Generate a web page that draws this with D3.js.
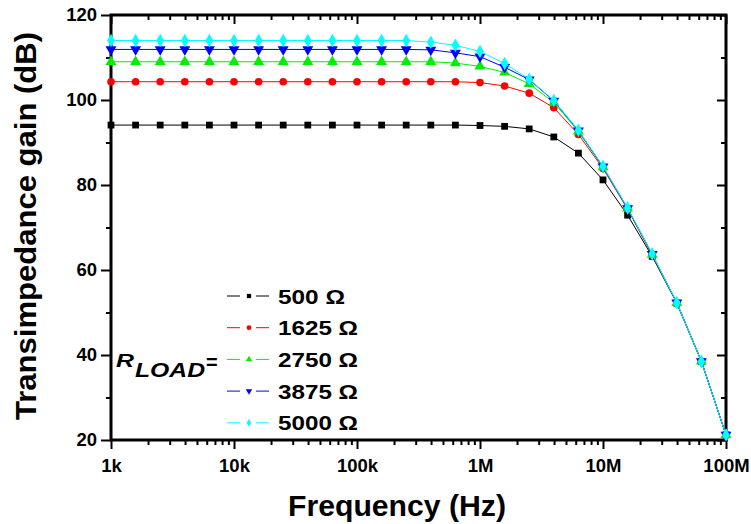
<!DOCTYPE html>
<html>
<head>
<meta charset="utf-8">
<script src="https://cdn.jsdelivr.net/npm/d3@7"></script>
<style>
  body { margin: 0; background: #fff; }
  svg text { font-family: "Liberation Sans", Arial, sans-serif; font-weight: bold; fill: #000; }
</style>
</head>
<body>
<svg id="chart" width="751" height="524"></svg>
<script>
// Frequency points (Hz), 5 per decade
const freq = [1000, 1585, 2512, 3981, 6310, 10000, 15850, 25120, 39810, 63100,
  1e5, 1.585e5, 2.512e5, 3.981e5, 6.31e5, 1e6, 1.585e6, 2.512e6, 3.981e6, 6.31e6,
  1e7, 1.585e7, 2.512e7, 3.981e7, 6.31e7, 1e8];

// Transimpedance gain (dB) per load
const gain500 = [94.1, 94.1, 94.1, 94.1, 94.1, 94.1, 94.1, 94.1, 94.1, 94.1, 94.1, 94.1, 94.1, 94.1, 94.1,
  94.0, 93.8, 93.2, 91.3, 87.5, 81.2, 72.9, 63.2, 52.2, 38.5, 21.2];
const gain1625 = [104.3, 104.3, 104.3, 104.3, 104.3, 104.3, 104.3, 104.3, 104.3, 104.3, 104.3, 104.3, 104.3, 104.3, 104.3,
  104.1, 103.3, 101.6, 98.2, 91.9, 83.9, 74.3, 63.5, 52.3, 38.5, 21.2];
const gain2750 = [109.0, 109.0, 109.0, 109.0, 109.0, 109.0, 109.0, 109.0, 109.0, 109.0, 109.0, 109.0, 109.0, 109.0, 108.7,
  107.9, 106.5, 103.8, 99.4, 92.6, 84.2, 74.5, 63.6, 52.3, 38.5, 21.2];
const gain3875 = [111.9, 111.9, 111.9, 111.9, 111.9, 111.9, 111.9, 111.9, 111.9, 111.9, 111.9, 111.9, 111.9, 111.8, 111.1,
  110.2, 107.7, 104.8, 99.8, 92.8, 84.3, 74.5, 63.7, 52.3, 38.5, 21.2];
const gain5000 = [114.0, 114.0, 114.0, 114.0, 114.0, 114.0, 114.0, 114.0, 114.0, 114.0, 114.0, 114.0, 114.0, 113.6, 112.9,
  111.4, 108.6, 104.9, 99.9, 92.9, 84.4, 74.6, 63.8, 52.3, 38.5, 21.2];

const seriesNames = ["500 Ω", "1625 Ω", "2750 Ω", "3875 Ω", "5000 Ω"];
const seriesValues = [gain500, gain1625, gain2750, gain3875, gain5000];
const seriesColors = ["#000000", "#ff0000", "#00ee00", "#0000ff", "#00ffff"];
const seriesSymbols = [d3.symbolSquare, d3.symbolCircle, d3.symbolTriangle, d3.symbolTriangle, d3.symbolDiamond];

const xMajor = [1e3, 1e4, 1e5, 1e6, 1e7, 1e8];
const xMajorLabels = ["1k", "10k", "100k", "1M", "10M", "100M"];
const yMajor = [20, 40, 60, 80, 100, 120];
const yMinor = [30, 50, 70, 90, 110];

const plot = { left: 111, right: 726, top: 15, bottom: 440 };

const svg = d3.select("#chart");

const x = d3.scaleLog().domain([1e3, 1e8]).range([plot.left, plot.right]);
const y = d3.scaleLinear().domain([20, 120]).range([plot.bottom, plot.top]);

// minor ticks 2..9 in each decade
const xMinor = [];
xMajor.slice(0, -1).forEach(d => { for (let k = 2; k < 10; k++) xMinor.push(d * k); });

function styleAxis(g) {
  g.select(".domain").remove();
  g.selectAll(".tick line").attr("stroke", "#000").attr("stroke-width", 2);
  g.selectAll(".tick text").style("font-size", "18.5px");
}

// bottom axis (outward ticks)
svg.append("g").attr("transform", `translate(0,${plot.bottom})`)
  .call(d3.axisBottom(x).tickValues(xMinor).tickSize(5).tickFormat(""))
  .call(styleAxis);
svg.append("g").attr("transform", `translate(0,${plot.bottom})`)
  .call(d3.axisBottom(x).tickValues(xMajor).tickSize(9).tickPadding(10)
    .tickFormat((d, i) => xMajorLabels[i]))
  .call(styleAxis);

// top axis (inward ticks)
svg.append("g").attr("transform", `translate(0,${plot.top})`)
  .call(d3.axisTop(x).tickValues(xMinor).tickSize(-5).tickFormat(""))
  .call(styleAxis);
svg.append("g").attr("transform", `translate(0,${plot.top})`)
  .call(d3.axisTop(x).tickValues(xMajor).tickSize(-9).tickFormat(""))
  .call(styleAxis);

// left axis (outward ticks)
svg.append("g").attr("transform", `translate(${plot.left},0)`)
  .call(d3.axisLeft(y).tickValues(yMinor).tickSize(5).tickFormat(""))
  .call(styleAxis);
svg.append("g").attr("transform", `translate(${plot.left},0)`)
  .call(d3.axisLeft(y).tickValues(yMajor).tickSize(10).tickPadding(4).tickFormat(d3.format("d")))
  .call(styleAxis);

// right axis (inward ticks)
svg.append("g").attr("transform", `translate(${plot.right},0)`)
  .call(d3.axisRight(y).tickValues(yMinor).tickSize(-5).tickFormat(""))
  .call(styleAxis);
svg.append("g").attr("transform", `translate(${plot.right},0)`)
  .call(d3.axisRight(y).tickValues(yMajor).tickSize(-9).tickFormat(""))
  .call(styleAxis);

// frame
svg.append("rect")
  .attr("x", plot.left).attr("y", plot.top)
  .attr("width", plot.right - plot.left).attr("height", plot.bottom - plot.top)
  .attr("fill", "none").attr("stroke", "#000").attr("stroke-width", 3);

// series
const line = d3.line().x(d => x(d[0])).y(d => y(d[1]));

seriesValues.forEach((vals, i) => {
  const pts = freq.map((f, j) => [f, vals[j]]);
  svg.append("path")
    .datum(pts)
    .attr("d", line)
    .attr("fill", "none")
    .attr("stroke", seriesColors[i])
    .attr("stroke-width", 1);

  const sym = d3.symbol().type(seriesSymbols[i]).size(i === 0 ? 46 : (i === 1 ? 46 : 52));
  svg.append("g").selectAll("path")
    .data(pts)
    .join("path")
    .attr("d", sym)
    .attr("transform", d => `translate(${x(d[0])},${y(d[1])})${i === 3 ? " rotate(180)" : ""}`)
    .attr("fill", seriesColors[i]);
});

// legend
const legBase = 303.5, legStep = 31.7;
const legend = svg.append("g");
seriesNames.forEach((name, i) => {
  const cy = legBase + i * legStep - 7.5;
  const g = legend.append("g");
  g.append("line").attr("x1", 227).attr("x2", 240).attr("y1", cy).attr("y2", cy)
    .attr("stroke", seriesColors[i]).attr("stroke-width", 1);
  g.append("line").attr("x1", 256).attr("x2", 269).attr("y1", cy).attr("y2", cy)
    .attr("stroke", seriesColors[i]).attr("stroke-width", 1);
  g.append("path")
    .attr("d", d3.symbol().type(seriesSymbols[i]).size(18))
    .attr("transform", `translate(249,${cy})${i === 3 ? " rotate(180)" : ""}`)
    .attr("fill", seriesColors[i]);
  g.append("text")
    .attr("x", 278).attr("y", legBase + i * legStep)
    .attr("textLength", i === 0 ? 67 : 80)
    .attr("lengthAdjust", "spacingAndGlyphs")
    .style("font-size", "21px")
    .text(name);
});

// R_LOAD = label
svg.append("text").attr("x", 116).attr("y", 367)
  .style("font-size", "19px").style("font-style", "italic")
  .attr("textLength", 18).attr("lengthAdjust", "spacingAndGlyphs")
  .text("R");
svg.append("text").attr("x", 135).attr("y", 377)
  .style("font-size", "20px").style("font-style", "italic")
  .attr("textLength", 70).attr("lengthAdjust", "spacingAndGlyphs")
  .text("LOAD");
svg.append("text").attr("x", 206).attr("y", 369)
  .style("font-size", "20px")
  .text("=");

// axis titles
svg.append("text")
  .attr("x", 397).attr("y", 516)
  .attr("text-anchor", "middle")
  .attr("textLength", 218).attr("lengthAdjust", "spacingAndGlyphs")
  .style("font-size", "29px")
  .text("Frequency (Hz)");

svg.append("text")
  .attr("transform", "translate(36,226) rotate(-90)")
  .attr("text-anchor", "middle")
  .attr("textLength", 388).attr("lengthAdjust", "spacingAndGlyphs")
  .style("font-size", "29px")
  .text("Transimpedance gain (dB)");
</script>
</body>
</html>
